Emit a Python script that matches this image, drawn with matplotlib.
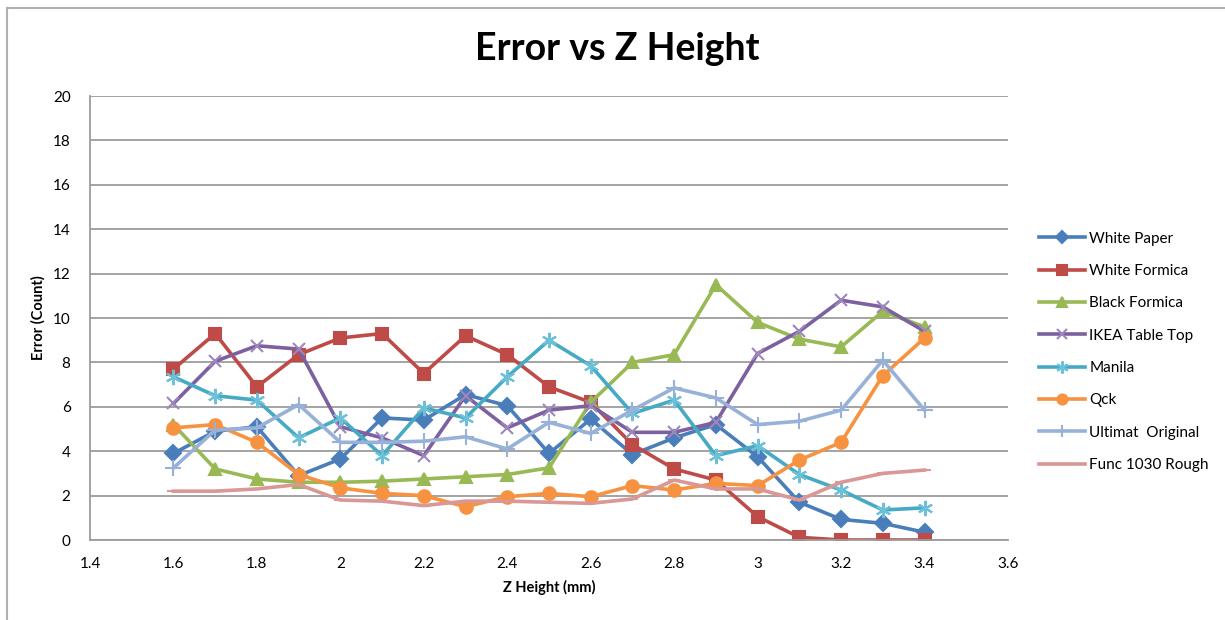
import matplotlib.pyplot as plt
from matplotlib.patches import Rectangle

plt.rcParams['font.family'] = ['Lato', 'DejaVu Sans']

z_height = [1.6, 1.7, 1.8, 1.9, 2.0, 2.1, 2.2, 2.3, 2.4, 2.5,
            2.6, 2.7, 2.8, 2.9, 3.0, 3.1, 3.2, 3.3, 3.4]

white_paper = [3.9, 4.9, 5.1, 2.9, 3.65, 5.5, 5.4, 6.55, 6.05, 3.9,
               5.45, 3.85, 4.6, 5.2, 3.75, 1.7, 0.93, 0.75, 0.35]
white_formica = [7.7, 9.3, 6.9, 8.35, 9.1, 9.3, 7.5, 9.2, 8.35, 6.9,
                 6.2, 4.3, 3.2, 2.7, 1.05, 0.12, 0, 0, 0]
black_formica = [5.2, 3.2, 2.75, 2.6, 2.6, 2.65, 2.75, 2.85, 2.95, 3.25,
                 6.2, 8.0, 8.35, 11.5, 9.8, 9.05, 8.7, 10.3, 9.6]
ikea_table_top = [6.15, 8.05, 8.75, 8.6, 5.1, 4.6, 3.8, 6.5, 5.05, 5.85,
                  6.05, 4.85, 4.85, 5.3, 8.4, 9.4, 10.8, 10.5, 9.4]
manila = [7.35, 6.5, 6.3, 4.6, 5.5, 3.8, 5.95, 5.5, 7.35, 9.0,
          7.85, 5.7, 6.3, 3.8, 4.25, 2.95, 2.25, 1.35, 1.45]
qck = [5.05, 5.2, 4.4, 2.95, 2.35, 2.1, 2.0, 1.5, 1.95, 2.1,
       1.95, 2.45, 2.25, 2.55, 2.45, 3.6, 4.4, 7.4, 9.1]
ultimat_original = [3.25, 4.95, 5.05, 6.1, 4.4, 4.4, 4.45, 4.65, 4.1, 5.3,
                    4.8, 5.85, 6.85, 6.4, 5.2, 5.35, 5.85, 8.1, 5.85]
func_1030_rough = [2.2, 2.2, 2.3, 2.5, 1.8, 1.75, 1.55, 1.75, 1.75, 1.7,
                   1.65, 1.85, 2.7, 2.3, 2.3, 1.8, 2.6, 3.0, 3.15]

series = [
    ("White Paper", white_paper, '#4a7ebb', 'D', 8, '#4a7ebb'),
    ("White Formica", white_formica, '#be4b48', 's', 9, '#be4b48'),
    ("Black Formica", black_formica, '#98b954', '^', 9, '#98b954'),
    ("IKEA Table Top", ikea_table_top, '#7d60a0', 'x', 9, '#9d86bb'),
    ("Manila", manila, '#46aac5', (6, 2, 0), 11, '#6cc0d8'),
    ("Qck", qck, '#f69240', 'o', 9, '#f69240'),
    ("Ultimat  Original", ultimat_original, '#97b1d8', '+', 11, '#97b1d8'),
    ("Func 1030 Rough", func_1030_rough, '#d99795', '_', 8, '#d99795'),
]

fig = plt.figure(figsize=(12.25, 6.2), dpi=100)
ax = fig.add_axes([90 / 1225, 1 - 540 / 620, 918 / 1225, 444 / 620])

for name, vals, color, marker, ms, mcolor in series:
    ax.plot(z_height, vals, color=color, lw=2.6, marker=marker, markersize=ms,
            markerfacecolor=mcolor, markeredgecolor=mcolor, markeredgewidth=1.5,
            label=name)

ax.set_xlim(1.4, 3.6)
ax.set_ylim(0, 20)
ax.set_xticks([1.4, 1.6, 1.8, 2.0, 2.2, 2.4, 2.6, 2.8, 3.0, 3.2, 3.4, 3.6])
ax.set_xticklabels(['1.4', '1.6', '1.8', '2', '2.2', '2.4', '2.6', '2.8', '3', '3.2', '3.4', '3.6'])
ax.set_yticks(range(0, 21, 2))
ax.tick_params(length=0, labelsize=11, colors='black')
ax.tick_params(axis='y', pad=14)
ax.tick_params(axis='x', pad=12)
ax.yaxis.grid(True, color='#9c9c9c', lw=1.3)
ax.set_axisbelow(True)
for s in ['top', 'right']:
    ax.spines[s].set_visible(False)
for s in ['left', 'bottom']:
    ax.spines[s].set_color('#9c9c9c')
    ax.spines[s].set_linewidth(1.3)

ax.set_xlabel("Z Height (mm)", fontsize=10.5, fontweight='bold', labelpad=7)
ax.set_ylabel("Error (Count)", fontsize=10.5, fontweight='bold', labelpad=5)
fig.text(617 / 1225, 1 - 49 / 620, "Error vs Z Height", fontsize=27, fontweight='bold',
         ha='center', va='center')

ax.legend(loc='upper left', bbox_to_anchor=(1025 / 1225, 1 - 218 / 620),
          bbox_transform=fig.transFigure, frameon=False, fontsize=11,
          handlelength=3.0, labelspacing=1.2, handletextpad=0.3, markerscale=0.8)

# outer chart border
fig.patches.append(Rectangle((7 / 1225, -0.05), 1.1, 1 - 8 / 620 + 0.05,
                             transform=fig.transFigure, fill=False,
                             edgecolor='#b0b0b0', lw=1.5))

fig.savefig("out.png", dpi=100)
